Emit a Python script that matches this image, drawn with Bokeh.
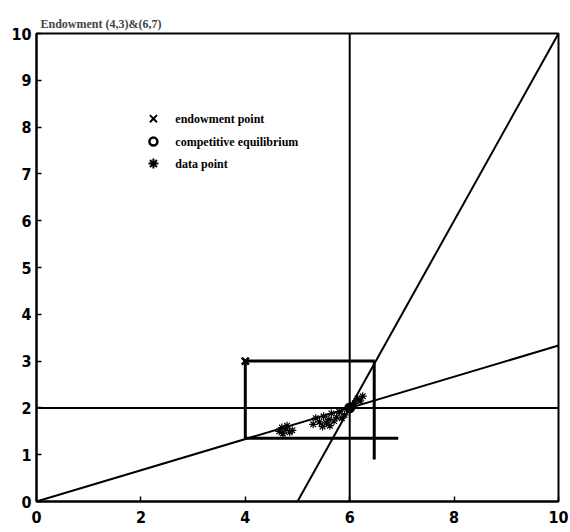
from bokeh.plotting import figure
from bokeh.models import Range1d, FixedTicker
from bokeh.embed import file_html
from bokeh.resources import INLINE
from bokeh.core.properties import value

title_text = "Endowment (4,3)&(6,7)"
x_ticks = [0, 2, 4, 6, 8, 10]
y_ticks = [0, 1, 2, 3, 4, 5, 6, 7, 8, 9, 10]

# lines
line1_x = [0, 10]
line1_y = [0, 10 / 3]
line2_x = [5, 10]
line2_y = [0, 10]
vline_x = [6, 6]
vline_y = [0, 10]
hline_x = [0, 10]
hline_y = [2, 2]
# box segments
box_top_x = [4, 6.48]
box_top_y = [3, 3]
box_left_x = [4, 4]
box_left_y = [3, 1.35]
box_right_x = [6.47, 6.47]
box_right_y = [3, 0.9]
box_bottom_x = [4, 6.93]
box_bottom_y = [1.35, 1.35]

endow_x = [4]
endow_y = [3]
eq_x = [6]
eq_y = [2]
data_x = [4.65, 4.72, 4.78, 4.85, 4.80, 4.90, 4.70,
          5.30, 5.35, 5.42, 5.50, 5.55, 5.60, 5.65, 5.70, 5.75, 5.80, 5.85, 5.90, 5.48, 5.62,
          6.05, 6.10, 6.15, 6.20, 6.25]
data_y = [1.50, 1.45, 1.55, 1.48, 1.62, 1.52, 1.58,
          1.65, 1.78, 1.70, 1.82, 1.68, 1.75, 1.88, 1.72, 1.80, 1.92, 1.78, 1.85, 1.60, 1.62,
          2.05, 2.10, 2.20, 2.15, 2.25]

legend_labels = ["endowment point", "competitive  equilibrium", "data point"]
legend_markers = ["x", "circle", "asterisk"]
legend_y = [8.18, 7.69, 7.22]

p = figure(width=570, height=532, output_backend="svg", toolbar_location=None,
           x_range=Range1d(0, 10), y_range=Range1d(0, 10),
           min_border_left=36, min_border_right=12, min_border_top=33, min_border_bottom=31)
p.background_fill_color = "white"
p.border_fill_color = "white"
p.grid.visible = False
p.outline_line_color = "black"
p.outline_line_width = 2

p.title.text = title_text
p.title.text_font = "Liberation Serif"
p.title.text_font_style = "bold"
p.title.text_font_size = "12px"
p.title.offset = 4
p.title.standoff = 6

tick_font = "DejaVu Sans Condensed"
p.xaxis.ticker = FixedTicker(ticks=x_ticks)
p.yaxis.ticker = FixedTicker(ticks=y_ticks)
for ax in [p.xaxis[0], p.yaxis[0]]:
    ax.major_tick_in = 5
    ax.major_tick_out = 0
    ax.minor_tick_in = 0
    ax.minor_tick_out = 0
    ax.axis_line_color = "black"
    ax.axis_line_width = 2
    ax.major_tick_line_width = 1.5
    ax.major_label_text_font = tick_font
    ax.major_label_text_font_style = "bold"
    ax.major_label_text_font_size = "16px"
    ax.major_label_text_color = "black"
p.xaxis.major_label_standoff = 9
p.yaxis.major_label_standoff = 5

lw = 2
p.line(line1_x, line1_y, line_color="black", line_width=lw)
p.line(line2_x, line2_y, line_color="black", line_width=lw)
p.line(vline_x, vline_y, line_color="black", line_width=lw)
p.line(hline_x, hline_y, line_color="black", line_width=lw)
bw = 3
p.line(box_top_x, box_top_y, line_color="black", line_width=bw)
p.line(box_left_x, box_left_y, line_color="black", line_width=bw)
p.line(box_right_x, box_right_y, line_color="black", line_width=bw)
p.line(box_bottom_x, box_bottom_y, line_color="black", line_width=bw)

p.scatter(data_x, data_y, marker="asterisk", size=8, line_color="black", line_width=1.2)
p.scatter(eq_x, eq_y, marker="circle", size=9, fill_color="black", line_color="black", line_width=2)
p.scatter(endow_x, endow_y, marker="x", size=10, line_color="black", line_width=2.5)

# legend
leg_mx = [2.24] * 3
leg_tx = [2.66] * 3
for m, yy, xx in zip(legend_markers, legend_y, leg_mx):
    if m == "circle":
        p.scatter([xx], [yy], marker=m, size=8, fill_color="white", line_color="black", line_width=2.5)
    else:
        p.scatter([xx], [yy], marker=m, size=10, line_color="black", line_width=2)
p.text(leg_tx, legend_y, text=legend_labels, text_font=value("Liberation Serif"),
       text_font_style="bold", text_font_size="12px", text_baseline="middle", text_color="black")

open("out.html", "w").write(file_html(p, INLINE))
